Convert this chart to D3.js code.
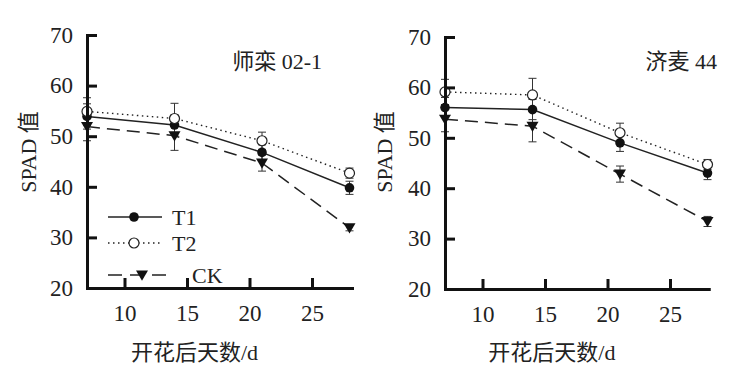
<!DOCTYPE html>
<html>
<head>
<meta charset="utf-8">
<script src="https://cdn.jsdelivr.net/npm/d3@7"></script>
<style>
  body { margin: 0; background: #fff; }
  svg text { font-family: "Liberation Serif", "Times New Roman", "DejaVu Serif", serif; fill: #222; }
  svg text.cjk { font-family: "Liberation Serif", "Noto Sans CJK SC", serif; }
</style>
</head>
<body>
<div id="chart"></div>
<script>
// days after anthesis
var days = [7, 14, 21, 28];
var xTicks = [10, 15, 20, 25];
var yTicks = [20, 30, 40, 50, 60, 70];

// 师栾 02-1
var leftT1 = [53.9, 52.2, 46.8, 39.8];
var leftT2 = [54.9, 53.5, 49.1, 42.7];
var leftCK = [51.9, 50.1, 44.7, 31.9];
var leftT1Err = [2.5, 2.0, 1.5, 1.3];
var leftT2Err = [2.7, 3.0, 1.7, 1.0];
var leftCKErr = [2.8, 2.9, 1.6, 0.6];

// 济麦 44
var rightT1 = [56.0, 55.6, 49.0, 43.0];
var rightT2 = [59.1, 58.5, 51.0, 44.7];
var rightCK = [53.7, 52.3, 42.8, 33.4];
var rightT1Err = [2.0, 2.0, 1.7, 1.3];
var rightT2Err = [2.5, 3.3, 1.9, 1.0];
var rightCKErr = [2.5, 3.1, 1.6, 1.0];

var seriesNames = ["T1", "T2", "CK"];

var W = 749, H = 368;
var svg = d3.select("#chart").append("svg")
    .attr("width", W)
    .attr("height", H);

var styles = {
  T1: { dash: null, marker: "dot" },
  T2: { dash: "1.5,3.5", marker: "open" },
  CK: { dash: "13,7", marker: "tri" }
};

function drawMarker(g, type, x, y) {
  if (type === "dot") {
    g.append("circle").attr("cx", x).attr("cy", y).attr("r", 4.8).attr("fill", "#111");
  } else if (type === "open") {
    g.append("circle").attr("cx", x).attr("cy", y).attr("r", 5).attr("fill", "#fff")
      .attr("stroke", "#222").attr("stroke-width", 1.2);
  } else {
    var s = 6;
    g.append("path")
      .attr("d", "M" + (x - s) + "," + (y - s * 0.75) + "L" + (x + s) + "," + (y - s * 0.75) + "L" + x + "," + (y + s * 0.95) + "Z")
      .attr("fill", "#111");
  }
}

function panel(opt) {
  var x = d3.scaleLinear().domain(opt.xDomain).range(opt.xRange);
  var y = d3.scaleLinear().domain([20, 70]).range(opt.yRange);
  var g = svg.append("g");

  var line = d3.line()
      .x(function(d, i) { return x(days[i]); })
      .y(function(d) { return y(d); });

  // lines
  opt.series.forEach(function(s, k) {
    var st = styles[seriesNames[k]];
    g.append("path")
      .datum(s.values)
      .attr("d", line)
      .attr("fill", "none")
      .attr("stroke", "#222")
      .attr("stroke-width", k === 1 ? 1.4 : 1.5)
      .attr("stroke-dasharray", st.dash);
  });

  // error bars
  opt.series.forEach(function(s) {
    s.values.forEach(function(v, i) {
      var cx = x(days[i]), e = s.err[i];
      g.append("path")
        .attr("d", "M" + cx + "," + y(v - e) + "V" + y(v + e) +
                   "M" + (cx - 4) + "," + y(v - e) + "H" + (cx + 4) +
                   "M" + (cx - 4) + "," + y(v + e) + "H" + (cx + 4))
        .attr("stroke", "#333").attr("stroke-width", 1).attr("fill", "none");
    });
  });

  // markers
  opt.series.forEach(function(s, k) {
    var st = styles[seriesNames[k]];
    s.values.forEach(function(v, i) {
      drawMarker(g, st.marker, x(days[i]), y(v));
    });
  });

  // axes
  var xAxis = g.append("g")
      .attr("transform", "translate(0," + opt.yRange[0] + ")")
      .call(d3.axisBottom(x).tickValues(xTicks).tickSizeInner(-10).tickSizeOuter(0).tickPadding(17));
  var yAxis = g.append("g")
      .attr("transform", "translate(" + opt.xRange[0] + ",0)")
      .call(d3.axisLeft(y).tickValues(yTicks).tickSizeInner(-10).tickSizeOuter(0).tickPadding(14));

  [xAxis, yAxis].forEach(function(a) {
    a.attr("font-family", null);
    a.select(".domain").attr("stroke", "#111").attr("stroke-width", 3).attr("stroke-linecap", "square");
    a.selectAll(".tick line").attr("stroke", "#111").attr("stroke-width", 3);
    a.selectAll(".tick text").attr("font-size", 23).attr("fill", "#222");
  });

  // titles
  g.append("text")
    .attr("class", "cjk")
    .attr("x", opt.titleX).attr("y", 69)
    .attr("text-anchor", "end")
    .attr("font-size", 22)
    .text(opt.title);

  g.append("text")
    .attr("class", "cjk")
    .attr("transform", "translate(" + opt.yLabelX + ",152) rotate(-90)")
    .attr("text-anchor", "middle")
    .attr("dy", "0.35em")
    .attr("font-size", 22)
    .text("SPAD 值");

  g.append("text")
    .attr("class", "cjk")
    .attr("x", (opt.xRange[0] + opt.xRange[1]) / 2 - 25)
    .attr("y", 360)
    .attr("text-anchor", "middle")
    .attr("font-size", 22)
    .text("开花后天数/d");

  return g;
}

var gl = panel({
  xDomain: [7, 28.2], xRange: [87, 352], yRange: [288, 35],
  title: "师栾 02-1", titleX: 322, yLabelX: 28,
  series: [
    { values: leftT1, err: leftT1Err },
    { values: leftT2, err: leftT2Err },
    { values: leftCK, err: leftCKErr }
  ]
});

panel({
  xDomain: [7, 28.1], xRange: [445, 708.75], yRange: [289, 37],
  title: "济麦 44", titleX: 717, yLabelX: 384,
  series: [
    { values: rightT1, err: rightT1Err },
    { values: rightT2, err: rightT2Err },
    { values: rightCK, err: rightCKErr }
  ]
});

// legend (left panel)
var legend = gl.append("g");
var legendY = [217, 243, 275];
seriesNames.forEach(function(name, k) {
  var st = styles[name];
  var yy = legendY[k];
  legend.append("line")
    .attr("x1", 108).attr("x2", k === 2 ? 167 : 162)
    .attr("y1", yy).attr("y2", yy)
    .attr("stroke", "#222").attr("stroke-width", 1.5)
    .attr("stroke-dasharray", k === 2 ? "14,8" : st.dash);
  drawMarker(legend, st.marker, k === 2 ? 142 : 134, yy);
  legend.append("text")
    .attr("x", k === 2 ? 192 : 172)
    .attr("y", yy)
    .attr("dy", "0.35em")
    .attr("font-size", 22)
    .text(name);
});
</script>
</body>
</html>
